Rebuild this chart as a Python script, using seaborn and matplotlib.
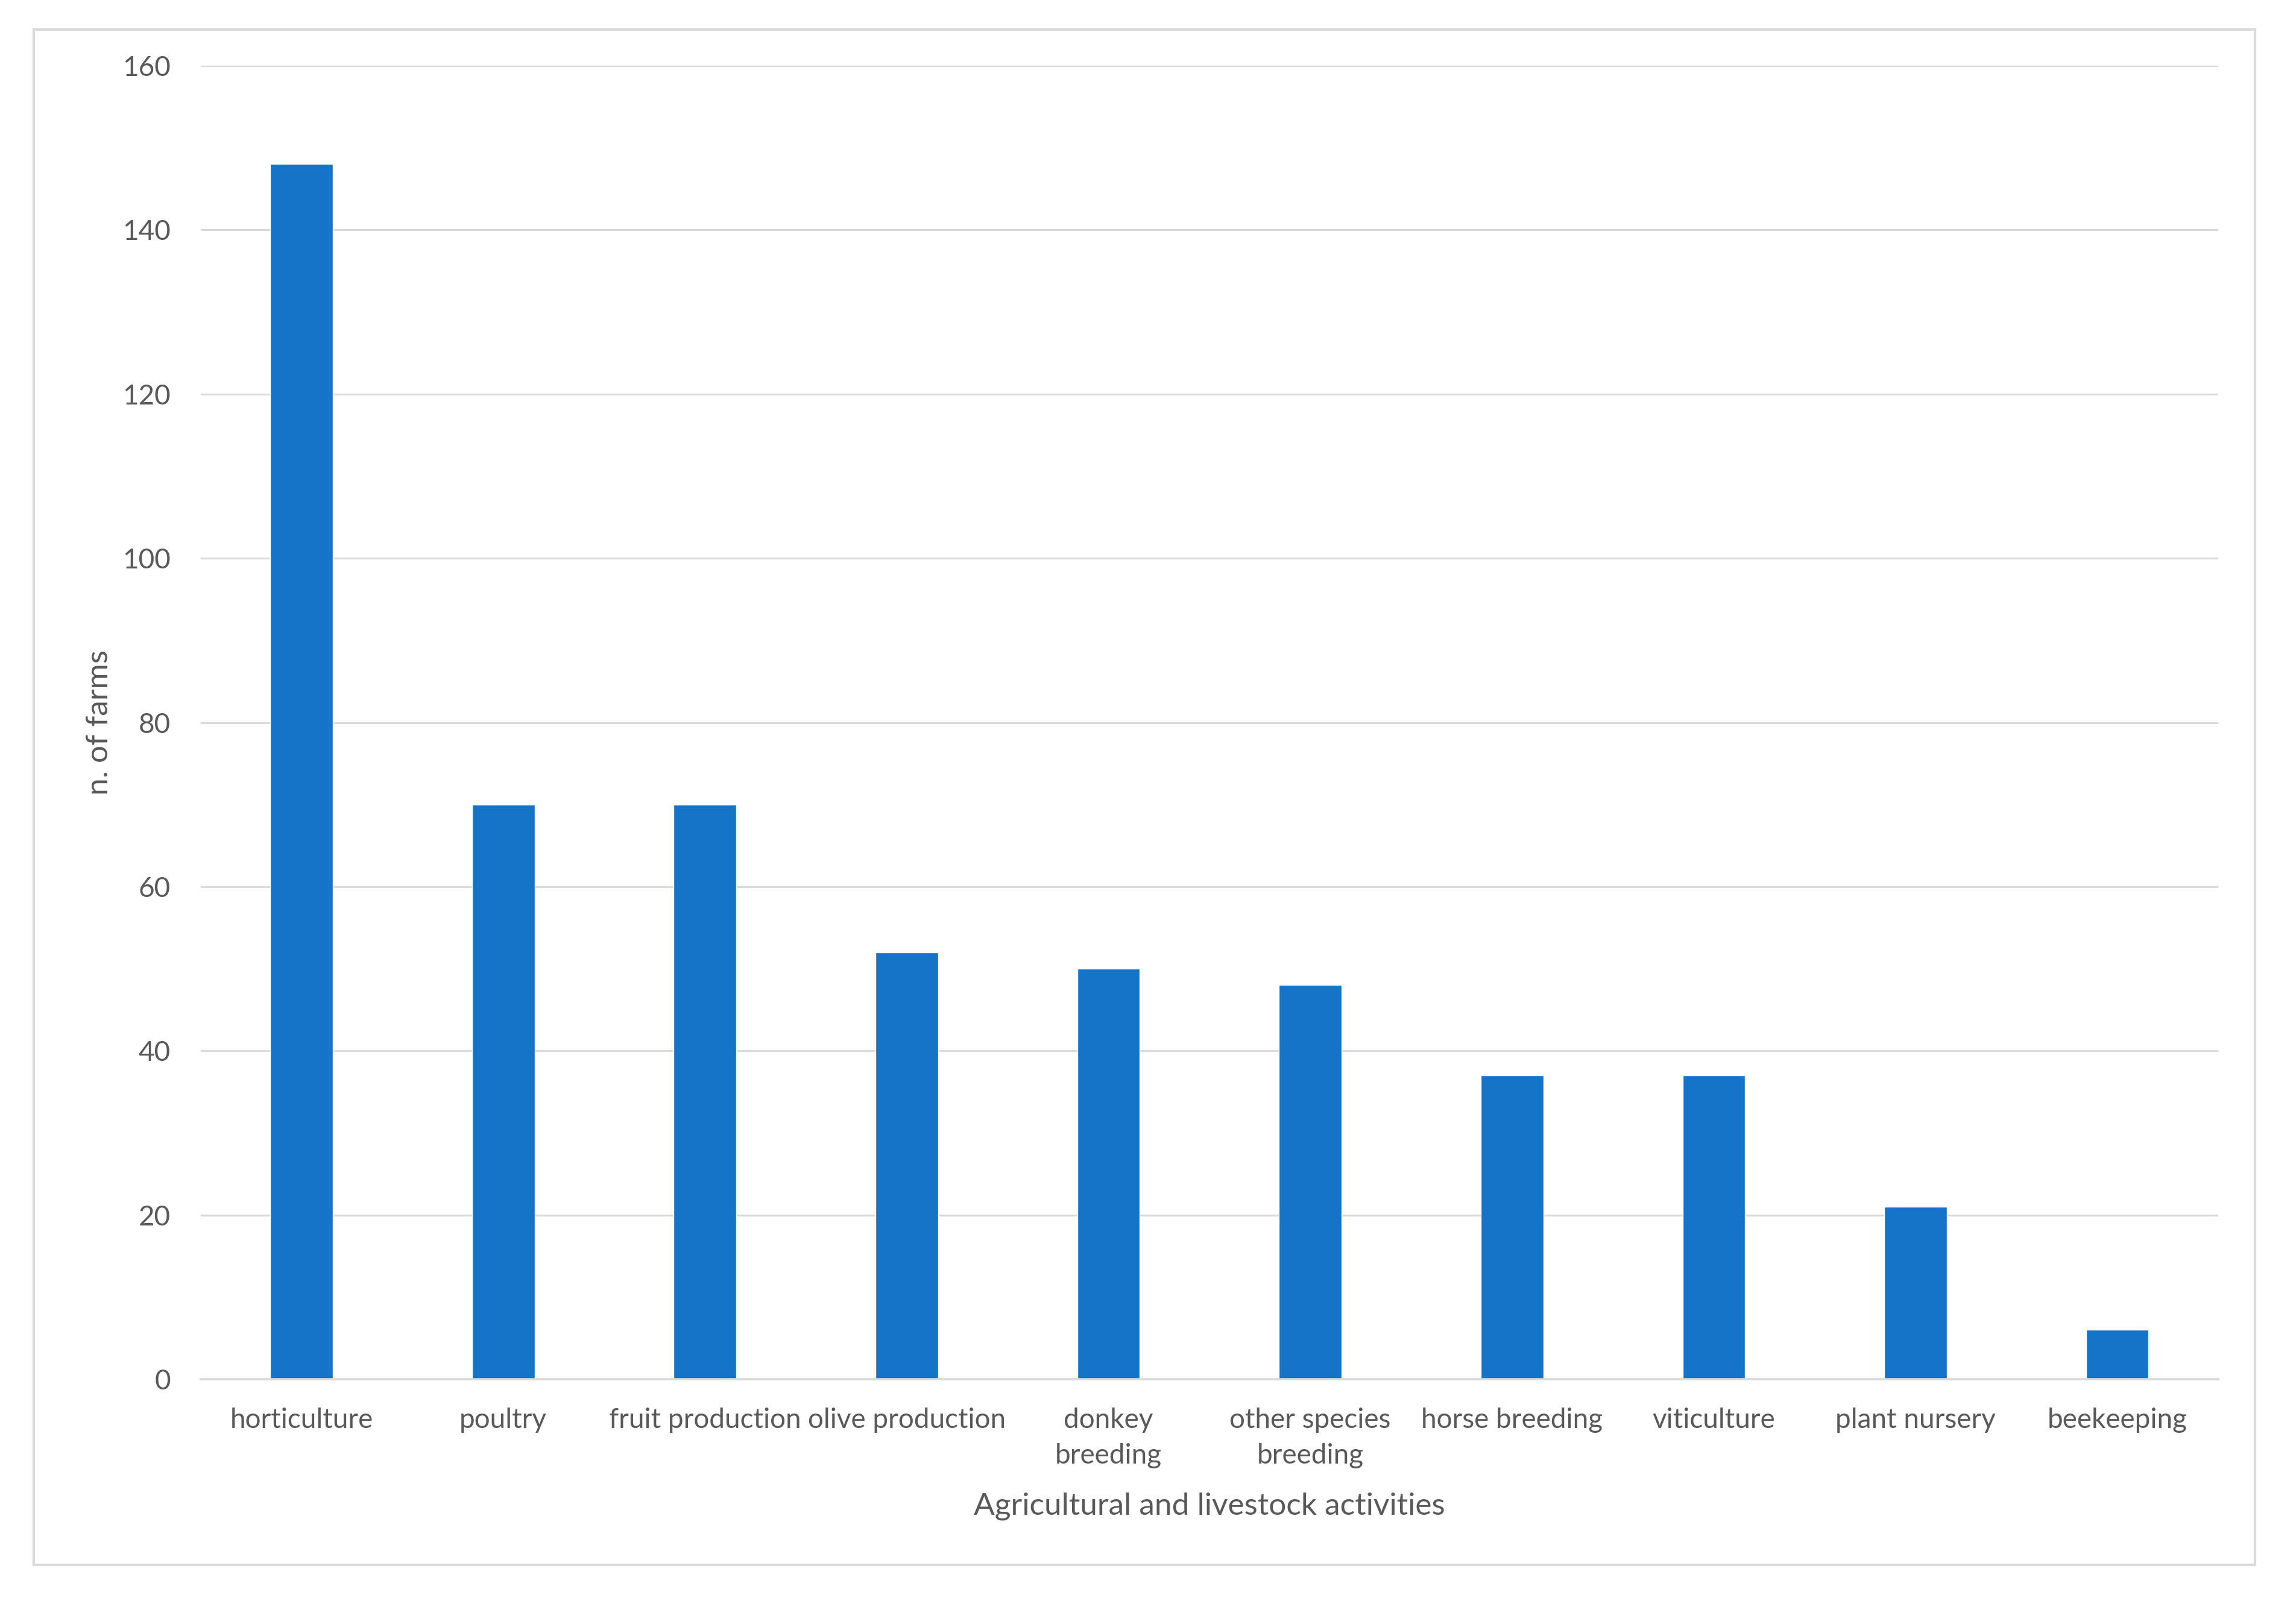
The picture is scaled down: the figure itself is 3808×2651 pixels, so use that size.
import matplotlib
matplotlib.use("Agg")
import matplotlib.pyplot as plt
import seaborn as sns
import pandas as pd
from matplotlib.patches import Rectangle

# data
activities = ["horticulture", "poultry", "fruit production", "olive production",
              "donkey\nbreeding", "other species\nbreeding", "horse breeding",
              "viticulture", "plant nursery", "beekeeping"]
n_farms = [148, 70, 70, 52, 50, 48, 37, 37, 21, 6]
y_ticks = [0, 20, 40, 60, 80, 100, 120, 140, 160]

df = pd.DataFrame({"activity": activities, "farms": n_farms})

sns.set_theme(style="white")
plt.rcParams["font.family"] = ["Lato", "DejaVu Sans"]

text_col = "#595959"
grid_col = "#D9D9D9"
bar_col = "#1573C8"

fig = plt.figure(figsize=(38.08, 26.51), dpi=100)
ax = fig.add_axes([0.0874, 0.1369, 0.9661 - 0.0874, 0.9589 - 0.1369])

sns.barplot(data=df, x="activity", y="farms", color=bar_col, width=0.31,
            saturation=1, ax=ax, zorder=3)

ax.set_xlim(-0.5, len(activities) - 0.5)
ax.set_ylim(0, 160)
ax.set_yticks(y_ticks)
ax.yaxis.grid(True, color=grid_col, linewidth=2.2, zorder=0)
ax.set_axisbelow(True)
for s in ["top", "right", "left"]:
    ax.spines[s].set_visible(False)
ax.spines["bottom"].set_color(grid_col)
ax.spines["bottom"].set_linewidth(2.6)
ax.spines["bottom"].set_zorder(4)

ax.tick_params(axis="both", length=0, labelsize=33, colors=text_col)
ax.tick_params(axis="y", pad=36)
ax.tick_params(axis="x", pad=34)
for lab in ax.get_xticklabels():
    lab.set_linespacing(1.5)

ax.set_xlabel("Agricultural and livestock activities", fontsize=37,
              color=text_col, labelpad=28)
ax.set_ylabel("n. of farms", fontsize=37, color=text_col, labelpad=11)

# light frame around the whole chart
fig.patches.append(Rectangle((56 / 3808, 1 - 2596 / 2651),
                             (3740 - 56) / 3808, (2596 - 49) / 2651,
                             transform=fig.transFigure, fill=False,
                             edgecolor=grid_col, linewidth=3))

fig.savefig("out.png", dpi=100, facecolor="white")
